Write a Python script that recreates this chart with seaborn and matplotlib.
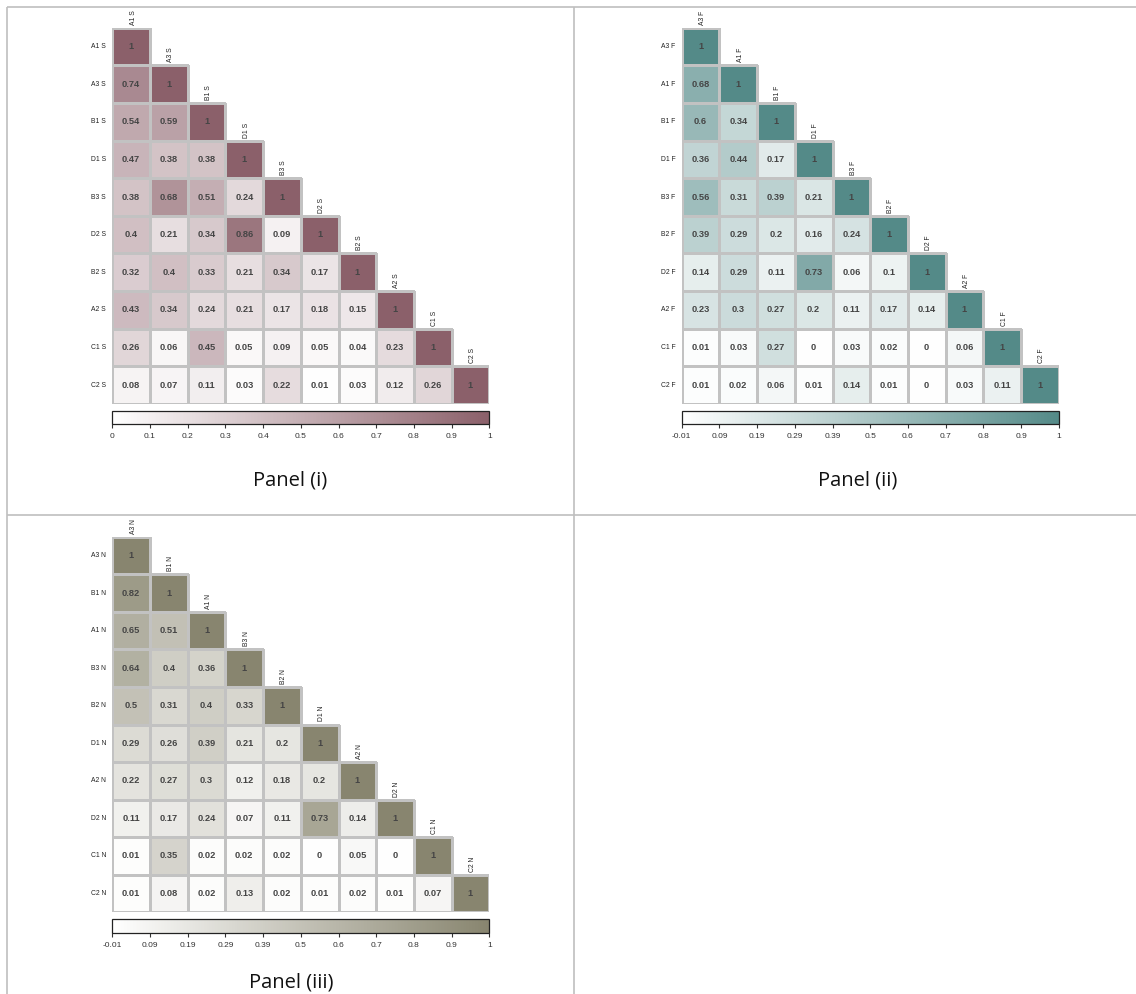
import numpy as np
import pandas as pd
import matplotlib
matplotlib.use("Agg")
import matplotlib.pyplot as plt
from matplotlib.colors import LinearSegmentedColormap
from matplotlib.lines import Line2D
import seaborn as sns

sns.set_theme(style="white")
plt.rcParams["font.family"] = ["Liberation Sans", "DejaVu Sans"]

# ---- Panel (i): S group -------------------------------------------------
names_s = ["A1 S", "A3 S", "B1 S", "D1 S", "B3 S", "D2 S", "B2 S", "A2 S", "C1 S", "C2 S"]
lower_s = [
    [1],
    [0.74, 1],
    [0.54, 0.59, 1],
    [0.47, 0.38, 0.38, 1],
    [0.38, 0.68, 0.51, 0.24, 1],
    [0.4, 0.21, 0.34, 0.86, 0.09, 1],
    [0.32, 0.4, 0.33, 0.21, 0.34, 0.17, 1],
    [0.43, 0.34, 0.24, 0.21, 0.17, 0.18, 0.15, 1],
    [0.26, 0.06, 0.45, 0.05, 0.09, 0.05, 0.04, 0.23, 1],
    [0.08, 0.07, 0.11, 0.03, 0.22, 0.01, 0.03, 0.12, 0.26, 1],
]
cbar_ticks_s = ["0", "0.1", "0.2", "0.3", "0.4", "0.5", "0.6", "0.7", "0.8", "0.9", "1"]
range_s = (0.0, 1.0)

# ---- Panel (ii): F group ------------------------------------------------
names_f = ["A3 F", "A1 F", "B1 F", "D1 F", "B3 F", "B2 F", "D2 F", "A2 F", "C1 F", "C2 F"]
lower_f = [
    [1],
    [0.68, 1],
    [0.6, 0.34, 1],
    [0.36, 0.44, 0.17, 1],
    [0.56, 0.31, 0.39, 0.21, 1],
    [0.39, 0.29, 0.2, 0.16, 0.24, 1],
    [0.14, 0.29, 0.11, 0.73, 0.06, 0.1, 1],
    [0.23, 0.3, 0.27, 0.2, 0.11, 0.17, 0.14, 1],
    [0.01, 0.03, 0.27, 0, 0.03, 0.02, 0, 0.06, 1],
    [0.01, 0.02, 0.06, 0.01, 0.14, 0.01, 0, 0.03, 0.11, 1],
]
cbar_ticks_f = ["-0.01", "0.09", "0.19", "0.29", "0.39", "0.5", "0.6", "0.7", "0.8", "0.9", "1"]
range_f = (-0.01, 1.0)

# ---- Panel (iii): N group -----------------------------------------------
names_n = ["A3 N", "B1 N", "A1 N", "B3 N", "B2 N", "D1 N", "A2 N", "D2 N", "C1 N", "C2 N"]
lower_n = [
    [1],
    [0.82, 1],
    [0.65, 0.51, 1],
    [0.64, 0.4, 0.36, 1],
    [0.5, 0.31, 0.4, 0.33, 1],
    [0.29, 0.26, 0.39, 0.21, 0.2, 1],
    [0.22, 0.27, 0.3, 0.12, 0.18, 0.2, 1],
    [0.11, 0.17, 0.24, 0.07, 0.11, 0.73, 0.14, 1],
    [0.01, 0.35, 0.02, 0.02, 0.02, 0, 0.05, 0, 1],
    [0.01, 0.08, 0.02, 0.13, 0.02, 0.01, 0.02, 0.01, 0.07, 1],
]
cbar_ticks_n = ["-0.01", "0.09", "0.19", "0.29", "0.39", "0.5", "0.6", "0.7", "0.8", "0.9", "1"]
range_n = (-0.01, 1.0)

panel_titles = ["Panel (i)", "Panel (ii)", "Panel (iii)"]

W, H = 1136, 994
fig = plt.figure(figsize=(W / 100, H / 100), dpi=100)
fig.patch.set_facecolor("white")


def px_rect(x0, y0, x1, y1):
    """Convert a pixel box (origin top-left) to a figure-fraction rect."""
    return [x0 / W, 1 - y1 / H, (x1 - x0) / W, (y1 - y0) / H]


def corr_panel(names, lower, top_color, vrange, tick_labels, hm_box, cb_box):
    n = len(names)
    mat = np.full((n, n), np.nan)
    for i, row in enumerate(lower):
        mat[i, : len(row)] = row
    df = pd.DataFrame(mat, index=names, columns=names)
    mask = np.triu(np.ones((n, n), dtype=bool), k=1)
    annot = np.array([["" if np.isnan(v) else f"{v:g}" for v in r] for r in mat])

    cmap = LinearSegmentedColormap.from_list("c", ["#ffffff", top_color])
    ax = fig.add_axes(px_rect(*hm_box))
    cax = fig.add_axes(px_rect(*cb_box))
    vmin, vmax = vrange
    sns.heatmap(
        df, mask=mask, cmap=cmap, vmin=vmin, vmax=vmax,
        annot=annot, fmt="",
        annot_kws={"color": "#454545", "fontsize": 6.7, "fontweight": "bold"},
        linewidths=0.8, linecolor="#c2c2c2",
        cbar_ax=cax, cbar_kws={"orientation": "horizontal"},
        xticklabels=False, ax=ax,
    )
    # hide borders of the blank upper-triangle cells
    mesh = ax.collections[0]
    ec = np.tile(np.array([0.76, 0.76, 0.76, 1.0]), (n * n, 1))
    ec[mask.ravel()] = (1, 1, 1, 0)
    mesh.set_edgecolors(ec)

    ax.set_yticklabels(names, rotation=0, fontsize=4.9, color="#222222")
    ax.tick_params(axis="y", length=0, pad=4.5)
    ax.tick_params(axis="x", length=0)
    ax.set_xlabel("")
    ax.set_ylabel("")
    # column names sit just above each diagonal cell
    for j, name in enumerate(names):
        ax.text(j + 0.55, j - 0.08, name, rotation=90, ha="center", va="bottom",
                fontsize=4.9, color="#222222", clip_on=False)

    cb = mesh.colorbar
    cb.set_ticks(np.linspace(vmin, vmax, len(tick_labels)))
    cb.set_ticklabels(tick_labels)
    cb.outline.set_edgecolor("#222222")
    cb.outline.set_linewidth(0.9)
    cax.tick_params(axis="x", direction="out", length=3, width=0.8, color="#333333",
                    labelsize=6.0, labelcolor="#333333", pad=3)
    return ax


corr_panel(names_s, lower_s, "#8b606a", range_s, cbar_ticks_s,
           (112.3, 27.7, 489.3, 404.0), (112.3, 410.7, 489.3, 424.3))
corr_panel(names_f, lower_f, "#548a88", range_f, cbar_ticks_f,
           (681.7, 27.7, 1058.7, 404.0), (681.7, 410.7, 1058.7, 424.3))
corr_panel(names_n, lower_n, "#88856f", range_n, cbar_ticks_n,
           (112.3, 536.7, 489.3, 912.3), (112.3, 919.0, 489.3, 933.3))

# frame lines and captions, drawn in pixel coordinates
bg = fig.add_axes([0, 0, 1, 1], zorder=-1)
bg.set_xlim(0, W)
bg.set_ylim(H, 0)
bg.axis("off")
line_kw = dict(color="#bfbfbf", linewidth=1.2, solid_capstyle="butt")
bg.add_line(Line2D([7, W], [6.8, 6.8], **line_kw))
bg.add_line(Line2D([7, W], [514.8, 514.8], **line_kw))
bg.add_line(Line2D([7.2, 7.2], [6.8, H], **line_kw))
bg.add_line(Line2D([574.2, 574.2], [6.8, H], **line_kw))

cap_kw = dict(ha="center", va="baseline", fontsize=14.5, color="#111111",
              family=["Open Sans", "DejaVu Sans"])
bg.text(290.5, 485.7, panel_titles[0], **cap_kw)
bg.text(858.0, 485.7, panel_titles[1], **cap_kw)
bg.text(291.0, 987.5, panel_titles[2], **cap_kw)

fig.savefig("out.png", dpi=100, facecolor="white")
